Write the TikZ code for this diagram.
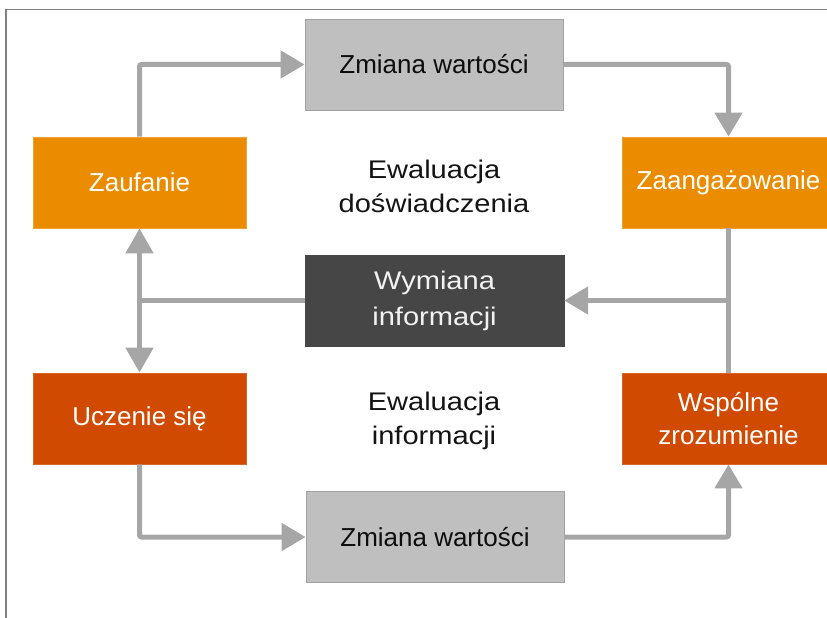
\documentclass[tikz,border=0pt]{standalone}
\usepackage{fontspec}
\setmainfont{Liberation Sans}
\newfontfamily\widefont[FakeStretch=1.14]{Liberation Sans}
\usetikzlibrary{arrows.meta}
\definecolor{orangeA}{HTML}{EB8C00}
\definecolor{orangeB}{HTML}{D04A02}
\definecolor{greybox}{HTML}{BFBFBF}
\definecolor{darkbox}{HTML}{464646}
\definecolor{arrowgrey}{HTML}{A6A6A6}
\definecolor{framegrey}{HTML}{808080}
\tikzset{
  box/.style={rectangle, minimum width=213pt, minimum height=91pt, inner sep=0pt,
    align=center, font=\fontsize{26}{33}\selectfont, text=white},
  amber/.style={box, fill=orangeA, draw=orangeA!80!white, line width=0.8pt},
  rust/.style={box, fill=orangeB, draw=orangeB!85!white, line width=0.8pt},
  change/.style={box, minimum width=258pt, fill=greybox, draw=greybox!85!black,
    line width=0.8pt, text=black!95},
  exchange/.style={box, minimum width=259pt, fill=darkbox, draw=darkbox,
    text=white!95!black, font=\widefont\fontsize{25.5}{36}\selectfont},
  caption/.style={align=center, font=\widefont\fontsize{25.5}{34}\selectfont, text=black!92},
  link/.style={draw=arrowgrey, line width=5pt, rounded corners=2pt},
  arr/.style={link, -{Triangle[length=24pt,width=27pt]}},
  dblarr/.style={link, {Triangle[length=25pt,width=27pt]}-{Triangle[length=25pt,width=27pt]}}
}
\begin{document}
\begin{tikzpicture}[x=1pt, y=-1pt]
  \useasboundingbox (0,0) rectangle (827,618);
  \clip (0,0) rectangle (827,618);
  % frame edges
  \draw[framegrey, line width=1.3pt] (6,618) -- (6,9.5) -- (827,9.5);

  % boxes
  \node[amber]    (zaufanie) at (139.5,182.5) {Zaufanie};
  \node[change]   (zmtop)    at (434,64.5)    {Zmiana wartości};
  \node[amber]    (zaang)    at (728.5,182.5) {Zaangażowanie};
  \node[exchange] (wymiana)  at (434.5,300.5) {Wymiana\\informacji};
  \node[rust]     (uczenie)  at (139.5,418.5) {Uczenie się};
  \node[rust]     (wspolne)  at (728.5,418.5) {Wspólne\\zrozumienie};
  \node[change]   (zmbot)    at (435,537)     {Zmiana wartości};

  % captions
  \node[caption] (evdos) at (434,186) {Ewaluacja\\doświadczenia};
  \node[caption] (evinf) at (434,421) {Ewaluacja\\informacji};

  % junction points
  \coordinate (jr) at (zaang.south |- wymiana.east);
  \coordinate (jl) at (zaufanie.south |- wymiana.west);

  % connectors
  \draw[arr] (zaufanie.north) |- (zmtop.west);
  \draw[arr] (zmtop.east) -| (zaang.north);
  \draw[link] (zaang.south) -- (wspolne.north);
  \draw[arr] (jr) -- (wymiana.east);
  \draw[link] (wymiana.west) -- (jl);
  \draw[dblarr] (zaufanie.south) -- (uczenie.north);
  \draw[arr] (uczenie.south) |- (zmbot.west);
  \draw[arr] (zmbot.east) -| (wspolne.south);
\end{tikzpicture}
\end{document}
